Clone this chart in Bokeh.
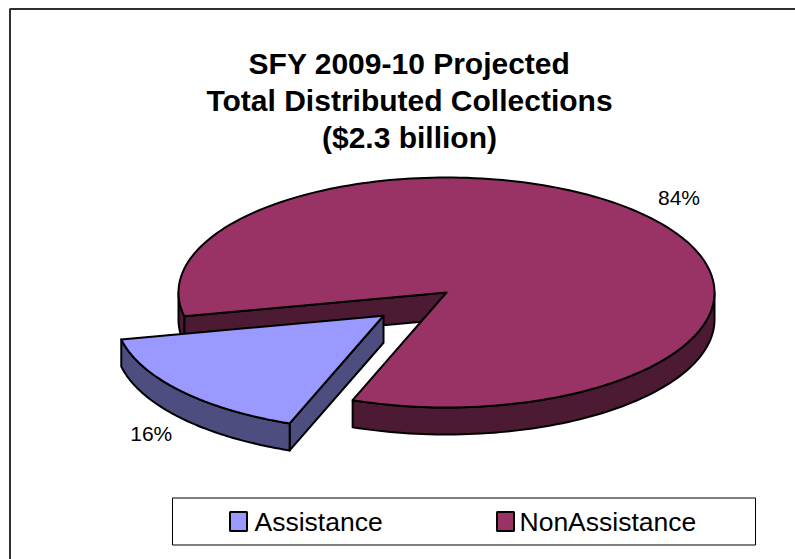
import numpy as np
from bokeh.plotting import figure
from bokeh.models import Range1d, ColumnDataSource
from bokeh.core.properties import value
from bokeh.embed import file_html
from bokeh.resources import INLINE

# ---------------- data ----------------
title_lines = ["SFY 2009-10 Projected", "Total Distributed Collections", "($2.3 billion)"]
categories = ["Assistance", "NonAssistance"]
shares = [16, 84]
pct_labels = ["16%", "84%"]
top_colors = ["#9999FF", "#993366"]
side_colors = ["#4D4D80", "#4D1A33"]

# ---------------- layout (screen pixels, y down) ----------------
W, H = 795, 559
CX, CY, A, B, D = 446, 292, 268, 115, 27
START = 110.5            # degrees, clockwise on screen from +x
EXPLODE = [0.31, 0.0]
LABEL_F = [1.34, 1.2]
LABEL_DA = [-9.0, -3.0]
FONT = value("Liberation Sans")

p = figure(width=W, height=H, x_range=Range1d(0, W), y_range=Range1d(H, 0),
           output_backend="svg", toolbar_location=None, min_border=0)
p.axis.visible = False
p.grid.visible = False
p.outline_line_color = None
p.background_fill_color = "white"
p.border_fill_color = "white"

# outer chart frame (only top/left fall inside the window)
p.line(x=[9.5, 9.5, 900], y=[700, 8.5, 8.5], line_color="#303030", line_width=2)

total = float(sum(shares))
slices = []
a = START
for i, s in enumerate(shares):
    a0, a1 = a, a + 360.0 * s / total
    a = a1
    m = np.radians((a0 + a1) / 2)
    ox = EXPLODE[i] * A * np.cos(m)
    oy = EXPLODE[i] * B * np.sin(m)
    slices.append((i, a0, a1, ox, oy))

# paint back-to-front
slices.sort(key=lambda t: np.sin(np.radians((t[1] + t[2]) / 2)))

def rim(th, ox, oy, dz=0.0):
    r = np.radians(th)
    return CX + ox + A * np.cos(r), CY + oy + B * np.sin(r) + dz

xs, ys, fills = [], [], []
for i, a0, a1, ox, oy in slices:
    cx, cy = CX + ox, CY + oy
    # radial faces
    if np.cos(np.radians(a0)) < 0:
        rx, ry = rim(a0, ox, oy)
        xs.append([cx, rx, rx, cx]); ys.append([cy, ry, ry + D, cy + D]); fills.append(side_colors[i])
    if np.cos(np.radians(a1)) > 0:
        rx, ry = rim(a1, ox, oy)
        xs.append([cx, rx, rx, cx]); ys.append([cy, ry, ry + D, cy + D]); fills.append(side_colors[i])
    # outer walls (front half only)
    for k in range(-1, 3):
        lo, hi = max(a0, 360 * k), min(a1, 360 * k + 180)
        if hi - lo > 0.01:
            th = np.linspace(lo, hi, 80)
            tx, ty = rim(th, ox, oy)
            bx, by = rim(th[::-1], ox, oy, D)
            xs.append(list(tx) + list(bx)); ys.append(list(ty) + list(by)); fills.append(side_colors[i])
    # top face
    th = np.linspace(a0, a1, 200)
    tx, ty = rim(th, ox, oy)
    xs.append([cx] + list(tx)); ys.append([cy] + list(ty)); fills.append(top_colors[i])

src = ColumnDataSource(dict(xs=xs, ys=ys, fill=fills))
p.patches(xs="xs", ys="ys", fill_color="fill", line_color="black", line_width=2,
          line_join="round", source=src)

# percentage labels
lx, ly = [], []
for i, a0, a1, ox, oy in sorted(slices):
    m = np.radians((a0 + a1) / 2 + LABEL_DA[i])
    lx.append(CX + ox + LABEL_F[i] * A * np.cos(m))
    ly.append(CY + oy + LABEL_F[i] * B * np.sin(m))
p.text(x=lx, y=ly, text=pct_labels, text_font=FONT, text_font_size="21px",
       text_align="center", text_baseline="middle", text_color="black")

# title
p.text(x=[409] * 3, y=[63, 100, 137], text=title_lines, text_font=FONT,
       text_font_size="30px", text_font_style="bold", text_align="center",
       text_baseline="middle", text_color="black")

# legend
p.quad(left=[172], right=[755], top=[497.5], bottom=[544.5], fill_color=None,
       line_color="black", line_width=1)
sq_x = [238, 505]
p.rect(x=sq_x, y=[521, 521], width=17, height=19, fill_color=top_colors,
       line_color="black", line_width=2)
p.text(x=[254, 519], y=[521, 521], text=categories, text_font=FONT,
       text_font_size="26.5px", text_align="left", text_baseline="middle",
       text_color="black")

open("out.html", "w").write(file_html(p, INLINE))
